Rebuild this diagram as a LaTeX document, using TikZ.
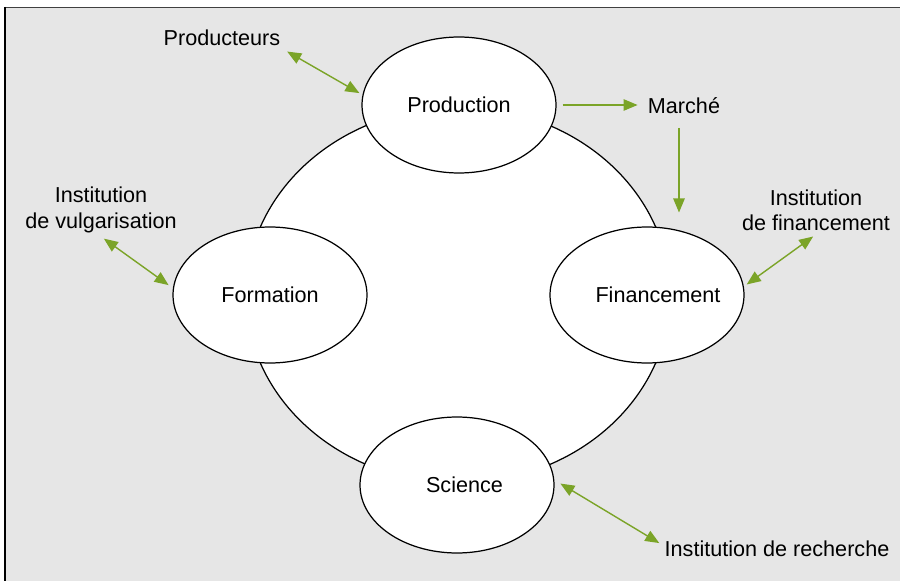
\documentclass[tikz,border=0pt]{standalone}
\usepackage{fontspec}
\setmainfont{Liberation Sans}
\usetikzlibrary{arrows.meta,shapes.geometric}
\definecolor{fondgris}{HTML}{E6E6E6}
\definecolor{vert}{HTML}{7BA428}

\begin{document}
\begin{tikzpicture}[x=0.02cm,y=-0.02cm,
          bulle/.style={ellipse,draw=black,fill=white,line width=0.7pt,inner sep=0pt,%
          minimum width=3.88cm,minimum height=2.72cm,font=\fontsize{12.3}{14.4}\selectfont},
          etiq/.style={align=center,inner sep=2pt,font=\fontsize{12.3}{14.4}\selectfont},
          fleche/.style={vert,line width=0.8pt,-{Triangle[length=8pt,width=6.5pt]}},
          fleches/.style={vert,line width=0.8pt,{Triangle[length=8pt,width=6.5pt]}-{Triangle[length=8pt,width=6.5pt]}}]

          \useasboundingbox (0,0) rectangle (900,581);
          \fill[fondgris] (5,7.5) rectangle (900,581);
          \draw[line width=1.1pt,black!75] (5,7.5) -- (900,7.5);
          \draw[line width=0.9pt,black] (5,7) -- (5,581);

          % grand cercle
          \draw[line width=0.7pt,fill=white] (458,295) ellipse [x radius=4.24cm,y radius=3.76cm];

          \node[bulle] (prod) at (459,105) {Production};
          \node[bulle] (form) at (270,295) {Formation};
          \node[bulle] (fin) at (647,295) {\makebox[0pt]{\hspace*{0.44cm}Financement}};
          \node[bulle] (sci) at (457,485) {\makebox[0pt]{\hspace*{0.3cm}Science}};

          \node[etiq] (prodr) at (222,38) {Producteurs};
          \node[etiq] (marche) at (684,106) {Marché};
          \node[etiq] (instfin) at (816,210) {Institution\\de financement};
          \node[etiq] (instvulg) at (101,210) {Institution\\de vulgarisation};
          \node[etiq] (instrech) at (777,549) {Institution de recherche};

          \draw[fleches,shorten <=2pt,shorten >=2pt] (prodr.south east) -- (prod.174);
          \draw[fleche,shorten <=3.4pt,shorten >=3.7pt] (prod.east) -- (prod.east -| marche.west);
          \draw[fleche,shorten <=5.7pt,shorten >=7.9pt] ([xshift=-0.1cm]marche.south) -- ([xshift=-0.1cm]marche.south |- fin.north);
          \draw[fleches,shorten <=2pt,shorten >=2pt] (fin.5) -- (instfin.south);
          \draw[fleches,shorten <=2pt,shorten >=3pt] (instvulg.south) -- (form.176);
          \draw[fleches,shorten <=4pt,shorten >=1pt] (sci.3) -- ([yshift=0.1cm]instrech.west);

          \end{tikzpicture}
\end{document}
